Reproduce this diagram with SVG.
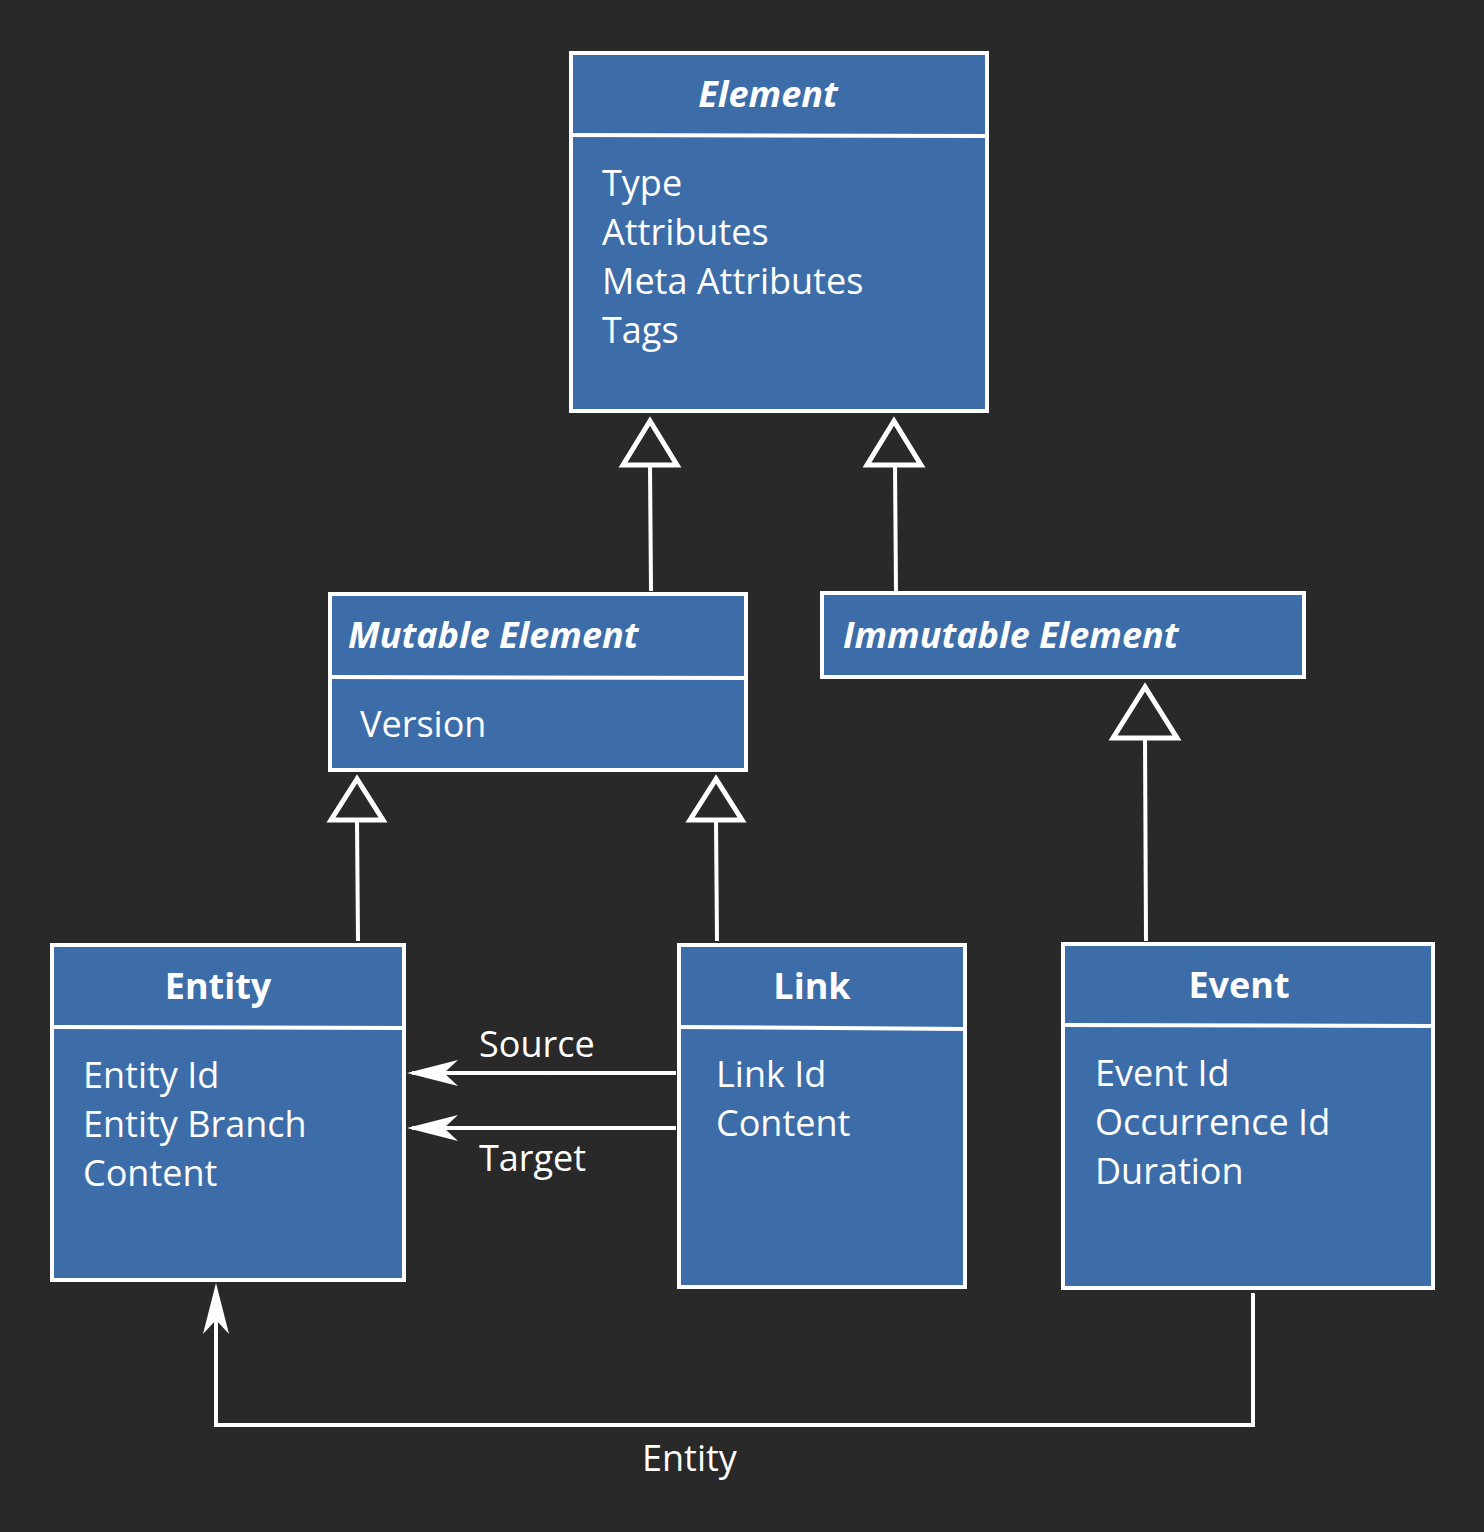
<svg xmlns="http://www.w3.org/2000/svg" width="1484" height="1532" viewBox="0 0 1484 1532">
<style>
.box{fill:#3d6da8;stroke:#fff;stroke-width:4}
.sep{stroke:#fff;stroke-width:4}
text{font-family:"Open Sans","Noto Sans","Liberation Sans",sans-serif;fill:#fff;font-size:36px}
.t{font-weight:bold;text-anchor:middle}
.i{font-style:italic;font-weight:bold}
.ln{stroke:#fff;stroke-width:4;fill:none}
.tri{fill:none;stroke:#fff;stroke-width:5}
</style>
<rect width="1484" height="1532" fill="#292929"/>
<g id="element"><rect class="box" x="571" y="53" width="416" height="358"/><line class="sep" x1="571" y1="135" x2="987" y2="136"/>
<text class="t i" x="768" y="107">Element</text>
<text x="602" y="196">Type</text><text x="602" y="245">Attributes</text><text x="602" y="294">Meta Attributes</text><text x="602" y="343">Tags</text></g>
<g id="mutable"><rect class="box" x="330" y="594" width="416" height="176"/><line class="sep" x1="330" y1="677" x2="746" y2="678"/>
<text class="i" x="348" y="648">Mutable Element</text><text x="360" y="737">Version</text></g>
<g id="immutable"><rect class="box" x="822" y="593" width="482" height="84"/>
<text class="i" x="843" y="648">Immutable Element</text></g>
<g id="entity"><rect class="box" x="52" y="945" width="352" height="335"/><line class="sep" x1="52" y1="1027" x2="404" y2="1028"/>
<text class="t" x="218" y="999">Entity</text>
<text x="83" y="1088">Entity Id</text><text x="83" y="1137">Entity Branch</text><text x="83" y="1186">Content</text></g>
<g id="link"><rect class="box" x="679" y="945" width="286" height="342"/><line class="sep" x1="679" y1="1027" x2="965" y2="1029"/>
<text class="t" x="812" y="999">Link</text>
<text x="716" y="1087">Link Id</text><text x="716" y="1136">Content</text></g>
<g id="event"><rect class="box" x="1063" y="944" width="370" height="344"/><line class="sep" x1="1063" y1="1025" x2="1433" y2="1026"/>
<text class="t" x="1239" y="998">Event</text>
<text x="1095" y="1086">Event Id</text><text x="1095" y="1135">Occurrence Id</text><text x="1095" y="1184">Duration</text></g>
<g id="connectors">
<line class="ln" x1="651" y1="591" x2="650" y2="465"/><polygon class="tri" points="650,421 623,465 677,465"/>
<line class="ln" x1="896" y1="591" x2="895" y2="465"/><polygon class="tri" points="894,421 867,465 921,465"/>
<line class="ln" x1="358" y1="941" x2="357" y2="820"/><polygon class="tri" points="357,779 331,820 383,820"/>
<line class="ln" x1="717" y1="941" x2="716" y2="820"/><polygon class="tri" points="716,779 690,820 742,820"/>
<line class="ln" x1="1146" y1="941" x2="1145" y2="738"/><polygon class="tri" points="1145,687 1113,738 1177,738"/>
<line class="ln" x1="676" y1="1073" x2="412" y2="1073"/><polygon fill="#fff" points="407,1073 458,1060 444,1073 458,1086"/>
<line class="ln" x1="676" y1="1128" x2="412" y2="1128"/><polygon fill="#fff" points="407,1128 458,1115 444,1128 458,1141"/>
<polyline class="ln" points="1253,1293 1253,1425 216,1425 216,1290"/><polygon fill="#fff" points="216,1283 203,1334 216,1320 229,1334"/>
<text x="479" y="1057">Source</text><text x="479" y="1171">Target</text><text x="642" y="1471">Entity</text>
</g>
</svg>
